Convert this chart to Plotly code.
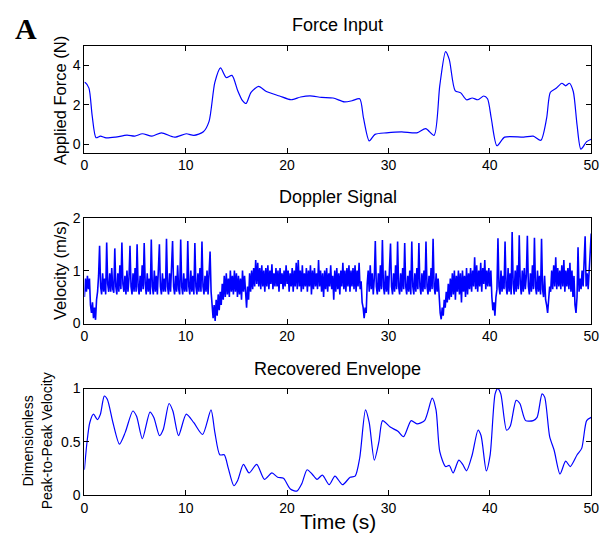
import numpy as np
import plotly.graph_objects as go

# ---------------- data ----------------
force_t = [0.0, 0.08, 0.45, 0.77, 1.15, 1.58, 2.14, 3.08, 4.2, 4.97, 5.72, 6.66, 7.6, 8.9,
           10.05, 10.8, 11.74, 12.3, 12.87, 13.43, 14.0, 14.56, 15.12, 15.58, 15.95, 16.44,
           17.19, 17.95, 19.26, 20.39, 21.33, 22.27, 23.4, 24.53, 25.66, 26.41, 27.16, 27.54,
           28.1, 28.67, 29.8, 31.3, 32.8, 33.67, 34.5, 35.06, 35.63, 36.0, 36.57, 37.13, 37.7,
           38.26, 38.83, 39.39, 39.77, 40.14, 40.7, 41.46, 43.34, 44.28, 45.03, 45.6, 45.97,
           46.54, 47.1, 47.48, 47.85, 48.23, 48.6, 48.98, 49.55, 50.0]
force_v = [3.15, 3.14, 2.85, 1.44, 0.33, 0.41, 0.32, 0.36, 0.46, 0.41, 0.53, 0.41, 0.58, 0.36,
           0.53, 0.45, 0.63, 1.16, 3.14, 3.88, 3.39, 3.5, 2.73, 2.23, 2.07, 2.64,
           2.94, 2.68, 2.45, 2.26, 2.4, 2.46, 2.38, 2.35, 2.15, 2.21, 2.31, 1.32,
           0.17, 0.5, 0.58, 0.63, 0.58, 0.79, 0.45, 2.98, 4.71, 4.3, 2.73, 2.61, 2.26,
           2.35, 2.26, 2.45, 2.31, 1.32, -0.08, 0.36, 0.36, 0.41, 0.2, 1.32, 2.64,
           2.84, 3.1, 2.97, 3.1, 2.68, 0.99, -0.25, 0.13, 0.25]

doppler_rows = [
    [0.5, 0.85, 0.6, 0.9, 0.65, 0.85, 0.35, 0.2, 0.4, 0.1],
    [0.3, 0.07, 0.45, 0.6, 0.9, 1.47, 0.7, 0.55, 0.95, 0.6],
    [0.85, 0.55, 1.53, 0.75, 0.6, 0.95, 0.6, 1.05, 0.65, 0.58],
    [1.42, 0.7, 0.55, 0.95, 0.6, 1.1, 0.65, 1.53, 0.75, 0.6],
    [0.9, 0.55, 1.0, 0.6, 0.85, 1.47, 0.7, 0.55, 0.95, 0.6],
    [1.05, 0.6, 1.5, 0.7, 0.55, 0.9, 0.6, 1.1, 0.65, 1.52],
    [0.75, 0.55, 0.95, 0.6, 0.85, 0.55, 1.59, 0.7, 0.55, 1.0],
    [0.6, 0.9, 0.55, 1.1, 1.5, 0.7, 0.55, 0.95, 0.6, 0.85],
    [0.6, 1.6, 0.7, 0.55, 0.95, 0.6, 1.05, 1.56, 0.7, 0.55],
    [0.9, 0.6, 1.1, 0.65, 0.55, 1.59, 0.7, 0.55, 0.95, 0.6],
    [0.85, 0.6, 1.56, 0.7, 0.55, 1.0, 0.6, 0.9, 0.55, 1.52],
    [0.7, 0.55, 0.95, 0.6, 1.05, 0.6, 1.55, 0.7, 0.55, 0.9],
    [0.6, 1.0, 0.55, 0.85, 1.36, 0.6, 0.3, 0.1, 0.35, 0.05],
    [0.45, 0.15, 0.55, 0.25, 0.6, 0.35, 0.75, 0.45, 0.9, 0.5],
    [0.95, 0.55, 0.85, 0.5, 1.0, 0.6, 0.9, 0.55, 1.0, 0.6],
    [0.95, 0.5, 0.9, 0.55, 0.85, 0.45, 1.0, 0.6, 0.9, 0.5],
    [0.3, 0.7, 0.45, 0.95, 0.6, 1.0, 0.65, 1.05, 0.7, 1.2],
    [0.75, 1.15, 0.7, 1.05, 0.65, 1.1, 0.7, 1.0, 0.6, 1.05],
    [0.7, 1.1, 0.65, 1.0, 0.75, 1.12, 0.65, 0.95, 0.7, 1.05],
    [0.7, 1.0, 0.6, 1.05, 0.75, 0.95, 0.65, 1.0, 0.7, 1.1],
    [0.75, 1.0, 0.6, 0.95, 0.7, 1.05, 0.6, 1.0, 0.7, 1.15],
    [0.65, 1.2, 0.7, 1.0, 0.6, 1.1, 0.65, 0.95, 0.7, 1.05],
    [0.6, 1.0, 0.7, 1.1, 0.55, 1.0, 0.65, 1.05, 0.7, 0.95],
    [0.65, 1.2, 0.7, 1.0, 0.6, 0.95, 0.5, 1.0, 0.65, 1.05],
    [0.6, 0.95, 0.7, 1.1, 0.65, 0.9, 0.45, 1.0, 0.6, 1.05],
    [0.65, 0.95, 0.55, 1.0, 0.7, 1.15, 0.65, 1.0, 0.6, 1.05],
    [0.7, 1.1, 0.6, 1.0, 0.7, 1.05, 0.65, 1.1, 0.6, 1.0],
    [0.7, 1.15, 0.65, 0.8, 0.4, 0.3, 0.1, 0.3, 0.2, 0.75],
    [1.0, 0.6, 1.1, 0.65, 0.95, 0.55, 0.85, 1.56, 0.7, 0.55],
    [0.95, 0.6, 1.1, 0.65, 1.58, 0.7, 0.55, 1.0, 0.6, 0.9],
    [0.55, 1.05, 1.51, 0.7, 0.55, 0.95, 0.6, 1.1, 0.65, 1.55],
    [0.7, 0.55, 0.95, 0.6, 1.05, 0.65, 1.52, 0.7, 0.55, 0.9],
    [0.6, 1.0, 0.55, 1.55, 0.7, 0.55, 0.95, 0.6, 1.05, 0.65],
    [1.52, 0.7, 0.55, 0.95, 0.6, 1.0, 0.65, 1.55, 0.7, 0.55],
    [0.9, 0.6, 1.05, 0.65, 1.6, 0.7, 0.55, 0.95, 0.6, 0.85],
    [0.4, 0.2, 0.08, 0.3, 0.15, 0.45, 0.3, 0.6, 0.4, 0.75],
    [0.45, 0.85, 0.5, 0.95, 0.55, 1.0, 0.45, 0.9, 0.6, 1.0],
    [0.55, 0.95, 0.4, 1.0, 0.6, 0.9, 0.5, 1.05, 0.55, 0.95],
    [0.65, 1.05, 0.6, 1.0, 0.7, 1.25, 0.65, 1.1, 0.6, 1.0],
    [0.7, 1.15, 0.6, 1.05, 0.75, 1.2, 0.65, 1.0, 0.7, 1.05],
    [0.7, 1.0, 0.5, 0.25, 0.4, 0.15, 0.5, 0.65, 1.61, 0.7],
    [0.55, 1.0, 0.6, 0.9, 0.65, 1.55, 0.7, 0.55, 1.05, 0.6],
    [0.95, 0.55, 1.73, 0.75, 0.55, 1.0, 0.6, 1.1, 0.65, 1.67],
    [0.75, 0.55, 1.0, 0.6, 1.05, 0.65, 0.9, 1.66, 0.7, 0.55],
    [0.95, 0.6, 1.1, 0.65, 1.62, 0.7, 0.55, 1.0, 0.6, 0.9],
    [0.55, 1.6, 0.65, 0.5, 0.9, 0.45, 0.35, 0.2, 0.45, 0.7],
    [0.6, 1.0, 0.65, 1.1, 0.7, 1.25, 0.65, 1.05, 0.7, 1.0],
    [0.65, 1.1, 0.7, 1.2, 0.6, 1.0, 0.7, 1.05, 0.65, 1.15],
    [0.6, 1.0, 0.5, 0.9, 0.35, 0.2, 0.5, 1.44, 0.6, 0.85],
    [0.65, 1.0, 0.7, 1.1, 1.65, 0.7, 0.95, 0.65, 1.05, 1.2],
]
doppler_last = [1.7]
doppler_step = 0.1

env_t = [0.0, 0.26, 0.53, 0.9, 1.28, 1.58, 1.96, 2.26, 2.82, 3.46, 4.03, 4.78, 5.15, 5.72,
         6.47, 6.85, 7.41, 7.79, 8.35, 8.73, 9.29, 10.05, 10.8, 11.66, 12.49, 12.87, 13.36,
         13.8, 14.18, 14.75, 15.12, 15.69, 16.25, 17.0, 17.76, 18.5, 19.07, 19.64, 20.32,
         20.96, 21.45, 21.97, 22.46, 22.95, 23.48, 24.15, 24.72, 25.47, 26.22, 26.71, 27.16,
         27.73, 28.1, 28.6, 29.05, 29.42, 30.17, 30.93, 31.49, 32.24, 32.81, 33.56, 34.31,
         34.69, 35.06, 35.63, 36.0, 36.38, 36.94, 37.32, 37.7, 38.26, 38.83, 39.13, 39.65,
         40.03, 40.52, 40.78, 41.08, 41.65, 42.02, 42.59, 42.96, 43.53, 44.28, 44.66, 45.15,
         45.41, 45.9, 46.35, 46.92, 47.48, 47.93, 48.61, 49.06, 49.55, 50.0]
env_v = [0.24, 0.5, 0.68, 0.76, 0.71, 0.76, 0.93, 0.9, 0.68, 0.48, 0.59, 0.79, 0.74, 0.53,
         0.78, 0.73, 0.56, 0.62, 0.86, 0.79, 0.56, 0.76, 0.68, 0.57, 0.8, 0.59, 0.38,
         0.38, 0.26, 0.09, 0.14, 0.29, 0.21, 0.29, 0.15, 0.21, 0.17, 0.16, 0.06,
         0.04, 0.11, 0.24, 0.2, 0.15, 0.19, 0.1, 0.18, 0.1, 0.17, 0.18, 0.35,
         0.8, 0.68, 0.33, 0.5, 0.7, 0.64, 0.6, 0.55, 0.7, 0.67, 0.7, 0.91,
         0.8, 0.41, 0.27, 0.28, 0.21, 0.33, 0.29, 0.23, 0.38, 0.61, 0.56, 0.23,
         0.38, 0.95, 1.0, 0.95, 0.61, 0.65, 0.89, 0.86, 0.7, 0.7, 0.73, 0.95,
         0.92, 0.55, 0.42, 0.2, 0.32, 0.27, 0.38, 0.44, 0.7, 0.73]

x_ticks = [0, 10, 20, 30, 40, 50]
force_ticks = [0, 2, 4]
doppler_ticks = [0, 1, 2]
env_ticks = [0, 0.5, 1]
env_tick_text = ["0", "0.5", "1"]

# ---------------- figure ----------------
W, H = 610, 549
doppler_v = [v for row in doppler_rows for v in row] + doppler_last
doppler_t = np.arange(len(doppler_v)) * doppler_step

def py(px):
    return 1 - px / H

xdom = [82 / W, 599 / W]
doms = [[py(149), py(39)], [py(325), py(216)], [py(502), py(392)]]

BLUE = "#0000ff"
fig = go.Figure()
fig.add_trace(go.Scatter(x=force_t, y=force_v, mode="lines", line=dict(color=BLUE, width=1.2, shape="spline", smoothing=0.7), xaxis="x", yaxis="y"))
fig.add_trace(go.Scatter(x=doppler_t, y=doppler_v, mode="lines", line=dict(color=BLUE, width=1.6), xaxis="x2", yaxis="y2"))
fig.add_trace(go.Scatter(x=env_t, y=env_v, mode="lines", line=dict(color=BLUE, width=1.2, shape="spline", smoothing=0.7), xaxis="x3", yaxis="y3"))

font = "Liberation Sans, Arial, Helvetica, sans-serif"
axis_common = dict(showline=True, linecolor="black", linewidth=1, mirror="ticks", ticks="inside",
                   ticklen=5, tickcolor="black", tickwidth=1, showgrid=False, zeroline=False,
                   tickfont=dict(family=font, size=14, color="black"))

layout = dict(width=W, height=H, margin=dict(l=0, r=0, t=0, b=0), showlegend=False,
              plot_bgcolor="white", paper_bgcolor="white")
yinfo = [([-0.43, 5], force_ticks, None), ([0, 2], doppler_ticks, None), ([0, 1], env_ticks, env_tick_text)]
for i in range(3):
    sx = "" if i == 0 else str(i + 1)
    layout["xaxis" + sx] = dict(domain=xdom, range=[0, 50], tickvals=x_ticks, anchor="y" + sx, **axis_common)
    yr, tv, tt = yinfo[i]
    yd = dict(domain=doms[i], range=yr, tickvals=tv, anchor="x" + sx, **axis_common)
    if tt:
        yd["ticktext"] = tt
    layout["yaxis" + sx] = yd
fig.update_layout(**layout)

def ann(text, x, y, size, angle=0, fam=font, bold=False):
    fig.add_annotation(text=("<b>%s</b>" % text) if bold else text, x=x / W, y=py(y), xref="paper", yref="paper",
                       showarrow=False, textangle=angle, font=dict(family=fam, size=size, color="black"),
                       xanchor="center", yanchor="middle")

cx = (82 + 599) / 2
ann("Force Input", cx, 18, 18)
ann("Doppler Signal", cx, 195, 18)
ann("Recovered Envelope", cx, 372, 18)
ann("Time (s)", cx, 529, 21)
ann("A", 22, 21, 30, fam="Liberation Serif, Times New Roman, serif", bold=True)
ann("Applied Force (N)", 57, 95, 16.5, angle=-90)
ann("Velocity (m/s)", 57, 270, 16.5, angle=-90)
ann("Dimensionless<br>Peak-to-Peak Velocity", 34, 446, 14, angle=-90)

fig.write_html("out.html")
